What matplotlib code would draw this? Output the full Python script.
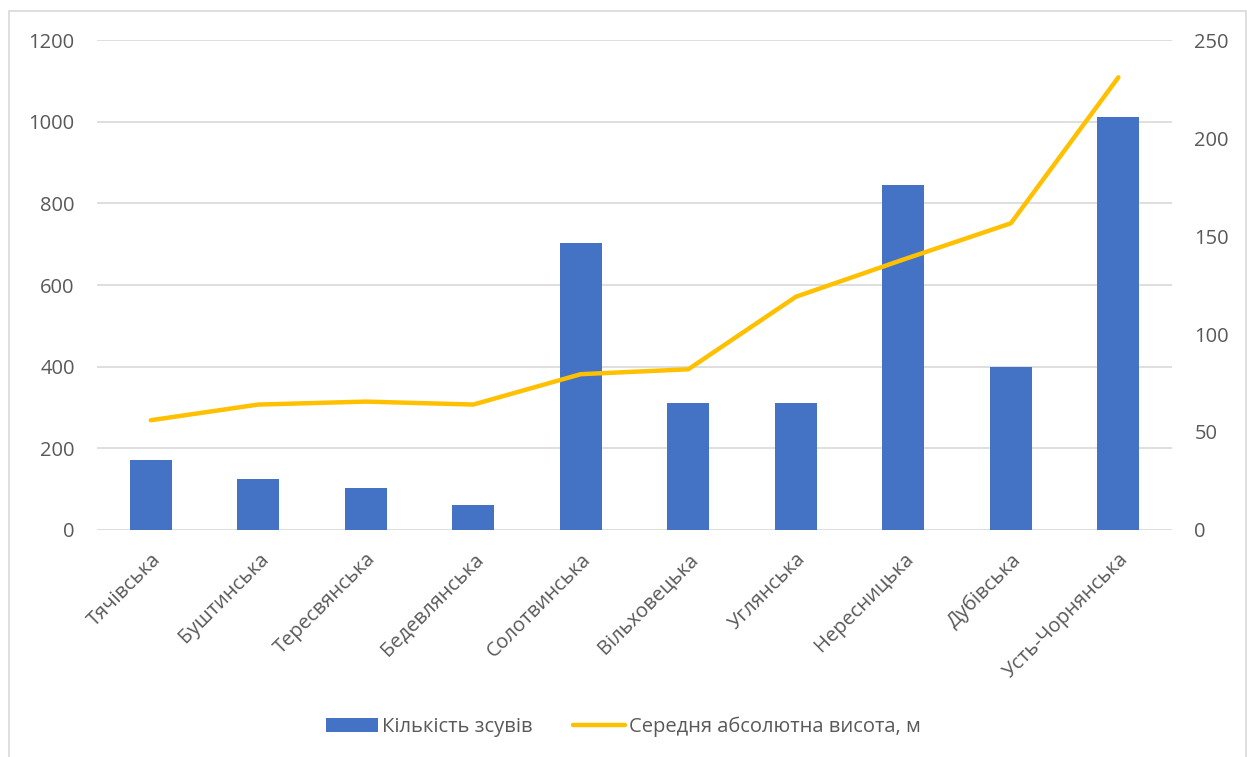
import numpy as np
import matplotlib.pyplot as plt
from matplotlib.patches import Rectangle

# Data
hromady = ['Тячівська', 'Буштинська', 'Тересвянська', 'Бедевлянська', 'Солотвинська',
           'Вільховецька', 'Углянська', 'Нересницька', 'Дубівська', 'Усть-Чорнянська']
landslides = [172, 124, 104, 62, 704, 311, 311, 844, 398, 1012]
mean_height = [56, 64, 65.5, 64, 79.5, 82, 119, 138, 156.5, 231]

plt.rcParams['font.family'] = ['Open Sans', 'DejaVu Sans']
grey = '#595959'
fs = 14.5

fig = plt.figure(figsize=(12.47, 7.57), dpi=100)
ax = fig.add_axes([0.0778, 0.2999, 0.8622, 0.6472])
ax2 = ax.twinx()

x = np.arange(len(hromady))
ax.bar(x, landslides, width=0.39, color='#4472C4', label='Кількість зсувів', zorder=2)
ax2.plot(x, mean_height, color='#FFC000', lw=3.2, solid_capstyle='round',
         label='Середня абсолютна висота, м', zorder=3)

ax.set_xlim(-0.5, len(hromady) - 0.5)
ax.set_ylim(0, 1200)
ax2.set_ylim(0, 250)
ax.set_yticks(range(0, 1201, 200))
ax2.set_yticks(range(0, 251, 50))
ax.yaxis.grid(True, color='#D9D9D9', lw=1.2)
ax.set_axisbelow(True)

for a in (ax, ax2):
    for s in a.spines.values():
        s.set_visible(False)
    a.tick_params(length=0, labelsize=fs, colors=grey)
ax.tick_params(axis='y', pad=16)
ax2.tick_params(axis='y', pad=16)

ax.set_xticks(x)
ax.set_xticklabels(hromady, rotation=45, ha='right', rotation_mode='anchor', fontsize=fs, color=grey)
ax.tick_params(axis='x', pad=14)

h1, l1 = ax.get_legend_handles_labels()
h2, l2 = ax2.get_legend_handles_labels()
fig.legend(h1 + h2, l1 + l2, loc='center', bbox_to_anchor=(0.5, 0.04), ncol=2, frameon=False,
           fontsize=fs, labelcolor=grey, handlelength=2.6, handletextpad=0.2, columnspacing=2.0)

fig.patches.append(Rectangle((9 / 1247, -0.05), 1237 / 1247, 1.05 - 11 / 757, transform=fig.transFigure,
                             fill=False, edgecolor='#D9D9D9', lw=1.2))

fig.savefig('out.png', dpi=100)
